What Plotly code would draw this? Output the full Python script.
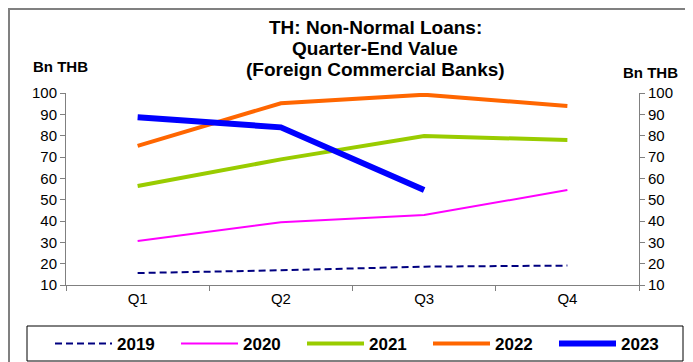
import plotly.graph_objects as go

quarters = ['Q1', 'Q2', 'Q3', 'Q4']
v2019 = [15.6, 16.9, 18.6, 19.1]
v2020 = [30.6, 39.4, 42.8, 54.5]
v2021 = [56.4, 68.9, 79.8, 78.0]
v2022 = [75.2, 95.2, 99.2, 93.9]
v2023 = [88.6, 83.9, 54.5]
title_lines = ['TH: Non-Normal Loans:', 'Quarter-End Value',
               '(Foreign Commercial Banks)']

# the page body adds an 8px margin, so positions below are screen pixels
# shifted back by OFF
OFF = 8
W, H = 693, 362
L, R, T, B = 66 - OFF, 54 + OFF, 93 - OFF, 77 + OFF
pw = W - L - R
ph = H - T - B


def px(x):
    return (x - OFF - L) / pw


def py(y):
    return (H - B - (y - OFF)) / ph


fnt = 'Liberation Sans, Arial, sans-serif'

fig = go.Figure()
fig.add_trace(go.Scatter(x=quarters, y=v2019, name='2019', mode='lines',
                         line=dict(color='#000080', width=2, dash='7px,4px')))
fig.add_trace(go.Scatter(x=quarters, y=v2020, name='2020', mode='lines',
                         line=dict(color='#FF00FF', width=2)))
fig.add_trace(go.Scatter(x=quarters, y=v2021, name='2021', mode='lines',
                         line=dict(color='#99CC00', width=4)))
fig.add_trace(go.Scatter(x=quarters, y=v2022, name='2022', mode='lines',
                         line=dict(color='#FF6600', width=4)))
fig.add_trace(go.Scatter(x=quarters[:3], y=v2023, name='2023', mode='lines',
                         line=dict(color='#0000FF', width=6)))
# invisible trace so the right-hand axis gets drawn
fig.add_trace(go.Scatter(x=quarters, y=v2019, yaxis='y2', mode='lines',
                         line=dict(color='rgba(0,0,0,0)'), showlegend=False,
                         hoverinfo='skip'))

axis_y = dict(range=[10, 100], dtick=10, ticks='outside', ticklen=5,
              tickcolor='#808080', showline=True, linecolor='#808080',
              linewidth=1, showgrid=False, zeroline=False,
              tickfont=dict(size=15, color='black', family=fnt))

fig.update_layout(
    width=W, height=H,
    margin=dict(l=L, r=R, t=T, b=B, autoexpand=False),
    paper_bgcolor='white', plot_bgcolor='white',
    font=dict(family=fnt, color='black'),
    xaxis=dict(type='category', range=[-0.5, 3.5], tickson='boundaries',
               ticks='outside', ticklen=5, tickcolor='#808080',
               showline=True, linecolor='#808080', showgrid=False,
               tickfont=dict(size=15, color='black', family=fnt)),
    yaxis=axis_y,
    yaxis2=dict(axis_y, overlaying='y', side='right'),
    showlegend=True,
    legend=dict(orientation='h', x=px(50), y=py(344), xanchor='left',
                yanchor='middle', borderwidth=0,
                bgcolor='rgba(0,0,0,0)', entrywidth=54, entrywidthmode='pixels',
                font=dict(size=17, family=fnt, color='black',
                          weight='bold'),
                itemwidth=57, tracegroupgap=0),
)

for line, yc in zip(title_lines, [27, 48.5, 70]):
    fig.add_annotation(text=line, x=px(375), y=py(yc), xref='paper', yref='paper',
                       xanchor='center', yanchor='middle', showarrow=False,
                       font=dict(size=19, family=fnt, color='black', weight='bold'))
fig.add_annotation(text='Bn THB', x=px(60), y=py(66), xref='paper', yref='paper',
                   xanchor='center', yanchor='middle', showarrow=False,
                   font=dict(size=15, family=fnt, color='black', weight='bold'))
fig.add_annotation(text='Bn THB', x=px(650), y=py(72), xref='paper', yref='paper',
                   xanchor='center', yanchor='middle', showarrow=False,
                   font=dict(size=15, family=fnt, color='black', weight='bold'))

# chart frame and legend box
fig.add_shape(type='rect', xref='paper', yref='paper',
              x0=px(OFF + 1), x1=px(W + 20), y0=py(OFF + 1), y1=py(H + 20),
              line=dict(color='#808080', width=2), layer='below')
fig.add_shape(type='rect', xref='paper', yref='paper',
              x0=px(27), x1=px(683), y0=py(326), y1=py(361),
              line=dict(color='black', width=1), layer='below')

fig.write_html('out.html')
